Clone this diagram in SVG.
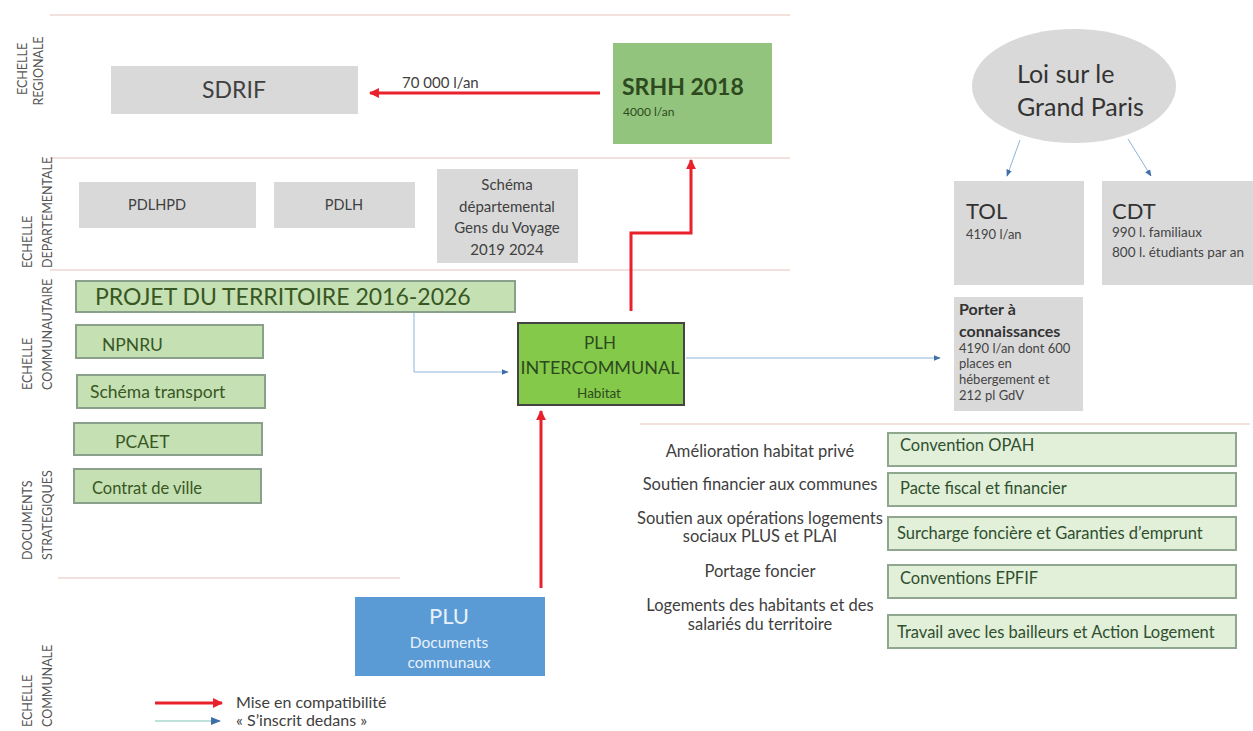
<svg xmlns="http://www.w3.org/2000/svg" width="1253" height="731" viewBox="0 0 1253 731">
<defs>
<style>
text{font-family:Lato,"Open Sans","Liberation Sans",sans-serif}
.sep{stroke:#f2e0dc;stroke-width:2;fill:none}
.side{font-size:12.5px;fill:#555}
.grey{fill:#d9d9d9}
.gtx{fill:#404040;text-anchor:middle}
.lg{fill:#c5e0b3;stroke:#8aa08a;stroke-width:2}
.lgt{fill:#385723;font-size:17.5px}
.rb{fill:#e2efd9;stroke:#8fa68f;stroke-width:2}
.rbt{fill:#2f4f2f;font-size:16.5px}
.lab{fill:#404040;font-size:16.5px;text-anchor:middle}
.red{stroke:#e8212b;stroke-width:3;fill:none}
.blue{stroke:#8fb3d9;stroke-width:1;fill:none}
</style>
<marker id="ar" viewBox="0 0 10 10" refX="9" refY="5" markerWidth="3.3" markerHeight="3.3" orient="auto"><path d="M0,0L10,5L0,10z" fill="#e8212b"/></marker>
<marker id="ab" viewBox="0 0 10 10" refX="9" refY="5" markerWidth="7" markerHeight="7" orient="auto"><path d="M0,1L10,5L0,9z" fill="#3f6fa8"/></marker>
</defs>
<rect width="1253" height="731" fill="#fff"/>
<g id="separators">
<line class="sep" x1="50" y1="15" x2="790" y2="15"/>
<line class="sep" x1="50" y1="158" x2="790" y2="158"/>
<line class="sep" x1="50" y1="270" x2="790" y2="270"/>
<line class="sep" x1="640" y1="424" x2="1250" y2="424"/>
<line class="sep" x1="58" y1="578" x2="400" y2="578"/>
</g>
<g id="side-labels" transform="rotate(-90)">
<text class="side" text-anchor="middle"><tspan x="-69" y="27">ECHELLE</tspan><tspan x="-71" y="43">REGIONALE</tspan></text>
<text class="side"><tspan x="-268" y="32">ECHELLE</tspan><tspan x="-268" y="52">DEPARTEMENTALE</tspan></text>
<text class="side"><tspan x="-390" y="32">ECHELLE</tspan><tspan x="-390" y="52">COMMUNAUTAIRE</tspan></text>
<text class="side"><tspan x="-560" y="32">DOCUMENTS</tspan><tspan x="-560" y="52">STRATEGIQUES</tspan></text>
<text class="side"><tspan x="-727" y="32">ECHELLE</tspan><tspan x="-727" y="52">COMMUNALE</tspan></text>
</g>
<g id="connectors">
<line class="red" x1="600" y1="93" x2="370" y2="93" marker-end="url(#ar)"/>
<path class="red" d="M631,311V233H691V160" marker-end="url(#ar)"/>
<line class="red" x1="541" y1="588" x2="541" y2="411" marker-end="url(#ar)"/>
<path class="blue" d="M414,313V372H508" marker-end="url(#ab)"/>
<line class="blue" x1="686" y1="358" x2="940" y2="358" marker-end="url(#ab)"/>
<line class="blue" x1="1020" y1="140" x2="1007" y2="176" marker-end="url(#ab)"/>
<line class="blue" x1="1128" y1="139" x2="1151" y2="176" marker-end="url(#ab)"/>
<text x="402" y="88" font-size="15" fill="#404040">70 000 l/an</text>
</g>
<g id="sdrif"><rect class="grey" x="111" y="66" width="247" height="48"/><text class="gtx" x="234" y="98" font-size="23">SDRIF</text></g>
<g id="srhh"><rect x="613" y="43" width="159" height="101" fill="#93c47d"/><text x="622" y="95" font-size="23" font-weight="bold" fill="#2d4a1f">SRHH 2018</text><text x="623" y="116" font-size="12" fill="#2d4a1f">4000 l/an</text></g>
<g id="pdlhpd"><rect class="grey" x="79" y="182" width="177" height="46"/><text class="gtx" x="157" y="210" font-size="14.5">PDLHPD</text></g>
<g id="pdlh"><rect class="grey" x="274" y="182" width="141" height="46"/><text class="gtx" x="344" y="210" font-size="14.5">PDLH</text></g>
<g id="schema-gdv"><rect class="grey" x="437" y="169" width="141" height="94"/><text class="gtx" font-size="15"><tspan x="507" y="190">Schéma</tspan><tspan x="507" y="212">départemental</tspan><tspan x="507" y="233">Gens du Voyage</tspan><tspan x="507" y="255">2019 2024</tspan></text></g>
<g id="loi-grand-paris"><ellipse cx="1074" cy="86" rx="102" ry="57" fill="#d9d9d9"/><text font-size="25" fill="#333"><tspan x="1017" y="83">Loi sur le</tspan><tspan x="1017" y="116">Grand Paris</tspan></text></g>
<g id="tol"><rect class="grey" x="954" y="181" width="130" height="104"/><text x="966" y="219" font-size="22" fill="#333">TOL</text><text x="966" y="239" font-size="13" fill="#444">4190 l/an</text></g>
<g id="cdt"><rect class="grey" x="1102" y="181" width="151" height="104"/><text x="1112" y="219" font-size="22" fill="#333">CDT</text><text font-size="13.5" fill="#444"><tspan x="1112" y="237">990 l. familiaux</tspan><tspan x="1112" y="257">800 l. étudiants par an</tspan></text></g>
<g id="porter"><rect class="grey" x="954" y="297" width="129" height="114"/><text font-size="16" font-weight="bold" fill="#333"><tspan x="959" y="315">Porter à</tspan><tspan x="959" y="337">connaissances</tspan></text><text font-size="13" fill="#444"><tspan x="959" y="353">4190 l/an dont 600</tspan><tspan x="959" y="368">places en</tspan><tspan x="959" y="384">hébergement et</tspan><tspan x="959" y="400">212 pl GdV</tspan></text></g>
<g id="projet"><rect class="lg" x="76" y="281" width="439" height="31"/><text x="95" y="305" font-size="23" fill="#385723">PROJET DU TERRITOIRE 2016-2026</text></g>
<g id="npnru"><rect class="lg" x="76" y="325" width="187" height="33"/><text class="lgt" x="102" y="351">NPNRU</text></g>
<g id="schema-transport"><rect class="lg" x="77" y="375" width="188" height="33"/><text class="lgt" x="90" y="398" font-size="19">Schéma transport</text></g>
<g id="pcaet"><rect class="lg" x="74" y="423" width="188" height="32"/><text class="lgt" x="115" y="448">PCAET</text></g>
<g id="contrat-ville"><rect class="lg" x="74" y="469" width="187" height="34"/><text x="92" y="494" font-size="16.5" fill="#385723">Contrat de ville</text></g>
<g id="plh"><rect x="518" y="323" width="166" height="82" fill="#84c94a" stroke="#444" stroke-width="2"/><text text-anchor="middle" fill="#2d4a1f"><tspan x="600" y="349" font-size="17">PLH</tspan><tspan x="600" y="374" font-size="18">INTERCOMMUNAL</tspan><tspan x="599" y="398" font-size="13.5">Habitat</tspan></text></g>
<g id="plu"><rect x="355" y="597" width="190" height="79" fill="#5b9bd5"/><text text-anchor="middle" fill="#e8f1fb"><tspan x="449" y="624" font-size="22">PLU</tspan><tspan x="449" y="648" font-size="15.5">Documents</tspan><tspan x="449" y="668" font-size="15.5">communaux</tspan></text></g>
<g id="actions">
<text class="lab"><tspan x="760" y="457">Amélioration habitat privé</tspan><tspan x="760" y="490">Soutien financier aux communes</tspan><tspan x="760" y="524">Soutien aux opérations logements</tspan><tspan x="760" y="542">sociaux PLUS et PLAI</tspan><tspan x="760" y="577">Portage foncier</tspan><tspan x="760" y="611">Logements des habitants et des</tspan><tspan x="760" y="630">salariés du territoire</tspan></text>
<g id="opah"><rect class="rb" x="888" y="433" width="348" height="33"/><text class="rbt" x="900" y="451">Convention OPAH</text></g>
<g id="pacte"><rect class="rb" x="888" y="473" width="348" height="33"/><text class="rbt" x="900" y="494">Pacte fiscal et financier</text></g>
<g id="surcharge"><rect class="rb" x="888" y="517" width="348" height="33"/><text class="rbt" x="897" y="539">Surcharge foncière et Garanties d’emprunt</text></g>
<g id="epfif"><rect class="rb" x="888" y="565" width="348" height="33"/><text class="rbt" x="900" y="584">Conventions EPFIF</text></g>
<g id="bailleurs"><rect class="rb" x="888" y="615" width="348" height="33"/><text class="rbt" x="897" y="638">Travail avec les bailleurs et Action Logement</text></g>
</g>
<g id="legend">
<line class="red" x1="155" y1="703" x2="222" y2="703" marker-end="url(#ar)"/>
<line x1="155" y1="721" x2="220" y2="721" stroke="#a8d8cc" stroke-width="1.5" marker-end="url(#ab)"/>
<text x="236" y="708" font-size="16" fill="#404040">Mise en compatibilité</text>
<text x="236" y="726" font-size="16" fill="#404040">« S’inscrit dedans »</text>
</g>
</svg>
